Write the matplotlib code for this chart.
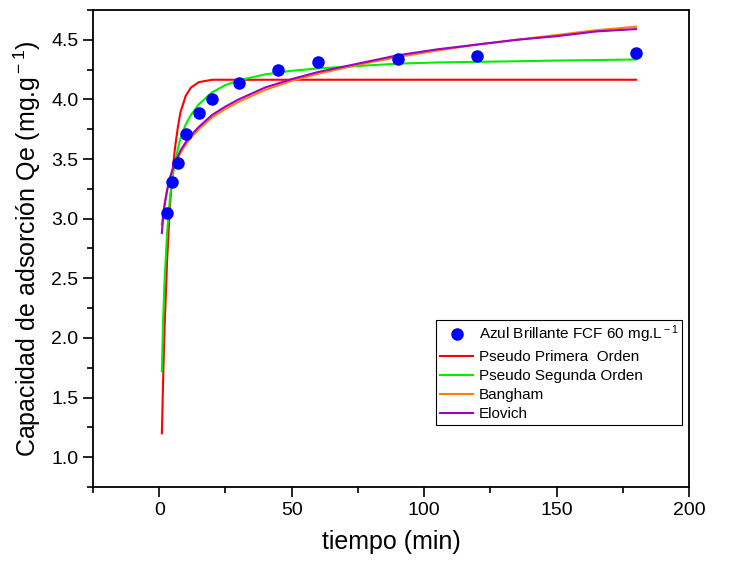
import numpy as np
import matplotlib
matplotlib.use("Agg")
import matplotlib.pyplot as plt
from matplotlib.ticker import MultipleLocator

plt.rcParams['font.family'] = ['Liberation Sans', 'DejaVu Sans']
plt.rcParams['mathtext.fontset'] = 'custom'
plt.rcParams['mathtext.rm'] = 'Liberation Sans'
plt.rcParams['mathtext.it'] = 'Liberation Sans:italic'

# experimental points
t_exp = [3, 5, 7, 10, 15, 20, 30, 45, 60, 90, 120, 180]
q_exp = [3.05, 3.31, 3.47, 3.71, 3.89, 4.00, 4.14, 4.25, 4.31, 4.34, 4.36, 4.39]

# fitted curves
t_fit = [1, 1.5, 2, 3, 4, 5, 6, 7, 8, 10, 12, 15, 20, 25, 30, 40, 50, 60,
         75, 90, 105, 120, 135, 150, 165, 180]
q_pfo = [1.20, 1.67, 2.07, 2.66, 3.09, 3.39, 3.60, 3.76, 3.89, 4.03, 4.10, 4.145,
         4.165, 4.165, 4.165, 4.165, 4.165, 4.165, 4.165, 4.165, 4.165, 4.165,
         4.165, 4.165, 4.165, 4.165]
q_pso = [1.72, 2.16, 2.47, 2.89, 3.16, 3.34, 3.48, 3.58, 3.67, 3.79, 3.87, 3.96,
         4.06, 4.12, 4.16, 4.21, 4.24, 4.26, 4.28, 4.30, 4.31, 4.315, 4.32,
         4.326, 4.33, 4.335]
q_bangham = [2.95, 3.05, 3.12, 3.24, 3.33, 3.40, 3.45, 3.50, 3.55, 3.62, 3.68, 3.75,
             3.85, 3.92, 3.98, 4.08, 4.155, 4.215, 4.29, 4.355, 4.41, 4.46, 4.50,
             4.54, 4.58, 4.61]
q_elovich = [2.88, 3.01, 3.11, 3.24, 3.34, 3.41, 3.47, 3.52, 3.57, 3.64, 3.70, 3.77,
             3.87, 3.94, 4.00, 4.10, 4.17, 4.23, 4.30, 4.37, 4.42, 4.46, 4.50,
             4.53, 4.57, 4.59]

fig = plt.figure(figsize=(7.31, 5.67), dpi=100)
ax = fig.add_axes([0.1272, 0.1411, 0.8153, 0.8413])

ax.plot(t_exp, q_exp, 'o', color='#0000FF', markersize=8, label='Azul Brillante FCF 60 mg.L$^{\\rm -1}$', zorder=5)
ax.plot(t_fit, q_pfo, color='#FF0000', lw=1.5, label='Pseudo Primera  Orden')
ax.plot(t_fit, q_pso, color='#00EE00', lw=1.5, label='Pseudo Segunda Orden')
ax.plot(t_fit, q_bangham, color='#FF8000', lw=1.5, label='Bangham')
ax.plot(t_fit, q_elovich, color='#A000C8', lw=1.5, label='Elovich')

ax.set_xlim(-25, 200)
ax.set_ylim(0.75, 4.75)
ax.xaxis.set_major_locator(MultipleLocator(50))
ax.xaxis.set_minor_locator(MultipleLocator(25))
ax.yaxis.set_major_locator(MultipleLocator(0.5))
ax.yaxis.set_minor_locator(MultipleLocator(0.25))
ax.tick_params(which='both', direction='out', width=1.2, labelsize=14, top=False, right=False)
ax.tick_params(which='major', length=7)
ax.tick_params(which='minor', length=4)
for s in ax.spines.values():
    s.set_linewidth(1.3)

ax.set_xlabel('tiempo (min)', fontsize=18, labelpad=8)
ax.set_ylabel('Capacidad de adsorción Qe (mg.g$^{\\rm -1}$)', fontsize=18, labelpad=6)

leg = ax.legend(loc='upper left', bbox_to_anchor=(0.5755, 0.350), fontsize=11,
                frameon=True, fancybox=False, edgecolor='black', framealpha=1,
                borderpad=0.25, handlelength=2.2, handletextpad=0.35,
                labelspacing=0.32, borderaxespad=0)
leg.get_frame().set_linewidth(0.8)

fig.savefig('out.png', dpi=100)
